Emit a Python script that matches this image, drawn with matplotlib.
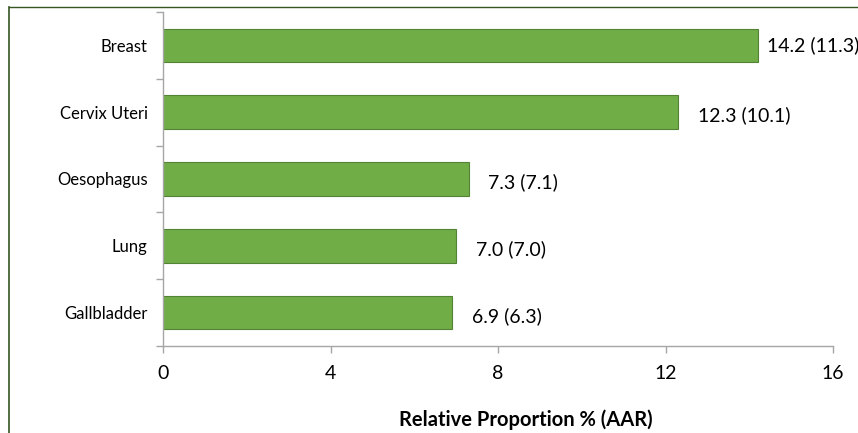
import matplotlib.pyplot as plt
from matplotlib.lines import Line2D

# cancer sites, top to bottom
sites = ['Breast', 'Cervix Uteri', 'Oesophagus', 'Lung', 'Gallbladder']
# relative proportion (%) and age adjusted rate in brackets
proportion = [14.2, 12.3, 7.3, 7.0, 6.9]
aar = [11.3, 10.1, 7.1, 7.0, 6.3]
xticks = [0, 4, 8, 12, 16]

plt.rcParams['font.family'] = ['Lato', 'DejaVu Sans']

fig = plt.figure(figsize=(8.58, 4.33), dpi=100)
ax = fig.add_axes([163 / 858, 1 - 346 / 433, 670 / 858, 334 / 433])

pos = list(range(len(sites)))[::-1]
ax.barh(pos, proportion, height=0.5, color='#70ad47', edgecolor='#548235', linewidth=0.8)

for y, p, a in zip(pos, proportion, aar):
    pad = 0.22 if p > 14 else 0.47
    dy = 0 if p > 14 else -0.05
    ax.text(p + pad, y + dy, f'{p:.1f} ({a:.1f})', va='center', ha='left',
            fontsize=14, color='#000000', clip_on=False)

ax.set_xlim(0, 16)
ax.set_ylim(-0.5, len(sites) - 0.5)
ax.set_xticks(xticks)
ax.set_xticklabels([str(t) for t in xticks], fontsize=14)
ax.set_yticks(pos)
ax.set_yticklabels(sites, fontsize=12)
ax.set_yticks([p - 0.5 for p in pos] + [len(sites) - 0.5], minor=True)
ax.tick_params(axis='y', which='major', length=0, pad=11)
ax.tick_params(axis='y', which='minor', length=5, color='#a6a6a6', width=1)
ax.tick_params(axis='x', length=5, color='#a6a6a6', width=1, pad=9, direction='out')

for side in ['top', 'right']:
    ax.spines[side].set_visible(False)
for side in ['left', 'bottom']:
    ax.spines[side].set_color('#a6a6a6')
    ax.spines[side].set_linewidth(1)

ax.set_xlabel('Relative Proportion % (AAR)', fontsize=14.5, fontweight='bold')
ax.xaxis.set_label_coords(0.542, -0.222)
ax.xaxis.label.set_va('center')

# frame around the chart area
fig.add_artist(Line2D([8.5 / 858, 8.5 / 858], [0, 1 - 7 / 433], color='#375623', lw=1.2,
                      transform=fig.transFigure))
fig.add_artist(Line2D([8.5 / 858, 1], [1 - 7 / 433, 1 - 7 / 433], color='#375623', lw=1.0,
                      transform=fig.transFigure))

fig.savefig('out.png', dpi=100)
